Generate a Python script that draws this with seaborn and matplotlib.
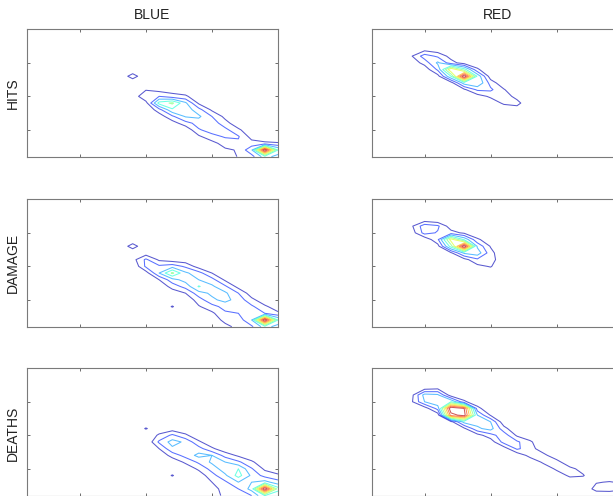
import numpy as np
import matplotlib
matplotlib.use("Agg")
import matplotlib.pyplot as plt
import seaborn as sns

# 2-D count grids (20 x 20 bins), stored sparsely:
# y bin -> (first x bin, counts along x)
blue_hits = {
    13: (9, [16]),
    11: (10, [9, 6, 5, 2]),
    10: (9, [2, 20, 20, 14, 12, 2]),
    9: (10, [6, 44, 52, 32, 8, 1]),
    8: (11, [16, 38, 36, 24, 8]),
    7: (11, [4, 18, 31, 32, 20, 7]),
    6: (12, [5, 16, 24, 26, 14, 3]),
    5: (13, [2, 19, 24, 23, 12, 2]),
    4: (14, [8, 17, 21, 21, 6, 3, 2]),
    3: (15, [6, 15, 18, 14, 12, 11]),
    2: (16, [8, 11, 28, 100, 40]),
    1: (16, [2, 11, 16, 35, 25]),
}
red_hits = {
    17: (4, [2, 6, 3]),
    16: (4, [9, 25, 18, 6]),
    15: (4, [3, 14, 32, 14, 5, 2]),
    14: (5, [3, 22, 70, 45, 12]),
    13: (6, [6, 40, 100, 38, 4]),
    12: (7, [5, 35, 40, 16, 2]),
    11: (8, [8, 22, 22, 11]),
    10: (9, [5, 12, 16, 6]),
    9: (10, [3, 12, 14]),
    8: (11, [2, 4]),
}
blue_damage = {
    13: (9, [16]),
    12: (10, [4]),
    11: (9, [6, 22, 8, 4, 3]),
    10: (10, [22, 22, 26, 18, 5, 1]),
    9: (10, [5, 30, 52, 32, 24, 10]),
    8: (11, [10, 26, 34, 30, 24, 8]),
    7: (11, [2, 14, 24, 41, 32, 22, 6]),
    6: (12, [4, 10, 26, 32, 32, 20, 4]),
    5: (13, [2, 15, 28, 33, 26, 13, 3, 2]),
    4: (12, [11, 0, 9, 16, 24, 24, 22, 12, 4]),
    3: (14, [3, 8, 18, 20, 22, 20, 12]),
    2: (15, [6, 12, 14, 30, 100, 40]),
    1: (16, [8, 12, 18, 35, 25]),
}
red_damage = {
    17: (5, [3, 0]),
    16: (4, [8, 26, 22, 4]),
    15: (4, [4, 24, 19, 14, 8, 1]),
    14: (5, [2, 18, 65, 38, 12, 3]),
    13: (6, [6, 45, 100, 28, 9]),
    12: (7, [8, 32, 36, 14]),
    11: (8, [6, 18, 16]),
    10: (9, [7, 11]),
    9: (10, [2]),
}
blue_deaths = {
    11: (10, [11, 2, 4, 2]),
    10: (11, [12, 22, 12, 2]),
    9: (11, [22, 34, 28, 12, 2]),
    8: (11, [10, 28, 29, 24, 12, 3]),
    7: (11, [2, 14, 24, 33, 30, 16, 8, 2]),
    6: (12, [3, 12, 22, 32, 30, 22, 12, 2]),
    5: (13, [3, 12, 24, 36, 40, 21, 8, 3]),
    4: (12, [11, 0, 4, 16, 28, 44, 28, 16, 12]),
    3: (15, [10, 18, 30, 30, 34, 24]),
    2: (15, [4, 16, 20, 34, 100, 45]),
    1: (15, [2, 14, 16, 20, 40, 30]),
}
red_deaths = {
    17: (5, [6, 8]),
    16: (4, [6, 34, 32, 4, 2]),
    15: (4, [8, 30, 38, 40, 12, 2]),
    14: (5, [4, 24, 100, 90, 14]),
    13: (6, [4, 85, 95, 30, 9]),
    12: (7, [6, 34, 34, 30, 3]),
    11: (8, [8, 28, 34, 14]),
    10: (9, [6, 16, 26, 8, 2]),
    9: (10, [4, 24, 22, 12]),
    8: (11, [4, 22, 14, 4]),
    7: (12, [2, 14, 13, 3]),
    6: (13, [2, 12, 14, 2]),
    5: (14, [3, 12, 13, 6]),
    4: (15, [4, 12, 11]),
    3: (16, [3, 2, 9, 11, 8]),
    2: (18, [15, 16, 12]),
}

teams = ["BLUE", "RED"]
stats = ["HITS", "DAMAGE", "DEATHS"]
panels = [[blue_hits, red_hits], [blue_damage, red_damage], [blue_deaths, red_deaths]]
levels = [10, 20, 30, 40, 50, 60, 70, 80, 90]
ticks = [5, 10, 15, 20]
N = 20


def to_grid(cells):
    z = np.zeros((N, N))
    for y, (x0, counts) in cells.items():
        for i, c in enumerate(counts):
            z[y - 1, x0 - 1 + i] = c
    return z


sns.set_style("ticks")
plt.rcParams["font.family"] = ["Liberation Sans", "DejaVu Sans"]
plt.rcParams["xtick.direction"] = "in"
plt.rcParams["ytick.direction"] = "in"

# one colour per contour level, jet from dark blue to dark red
jet = plt.get_cmap("jet")
colors = sns.color_palette([jet(v) for v in np.linspace(0.05, 0.95, len(levels))])

W, H = 613, 496
fig = plt.figure(figsize=(W / 100, H / 100), dpi=100)

col_left = [27, 371.7]
row_top = [29.3, 199.3, 369.3]
aw, ah = 251, 127.4
bins = np.arange(1, N + 1)

for r, stat in enumerate(stats):
    for c, team in enumerate(teams):
        bottom = max(H - (row_top[r] + ah), 0.4)
        ax = fig.add_axes([col_left[c] / W, bottom / H, aw / W, ah / H])
        z = to_grid(panels[r][c])
        ax.contour(bins, bins, z, levels=levels, colors=colors,
                   linewidths=0.75, alpha=0.65)
        ax.set_xlim(1, N)
        ax.set_ylim(1, N)
        ax.set_xticks(ticks)
        ax.set_yticks(ticks)
        ax.set_xticklabels([])
        ax.set_yticklabels([])
        ax.tick_params(top=True, right=True, length=2.5, width=0.6, color="#555555")
        for s in ax.spines.values():
            s.set_color("#7a7a7a")
            s.set_linewidth(0.8)
        if r == 0:
            fig.text((col_left[c] + aw / 2) / W, 1 - 19 / H, team,
                     ha="center", va="baseline", fontsize=10, color="#222222")
        if c == 0:
            fig.text(12.5 / W, 1 - (row_top[r] + ah / 2) / H, stat, rotation=90,
                     ha="center", va="center", fontsize=10, color="#222222")

fig.savefig("out.png", dpi=100)
